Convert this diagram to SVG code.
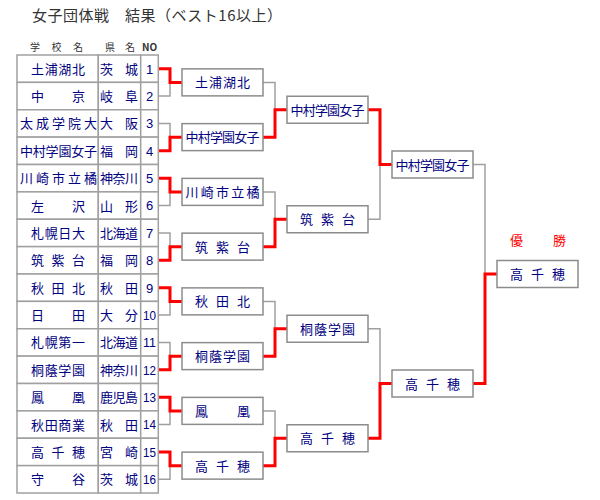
<svg xmlns="http://www.w3.org/2000/svg" width="600" height="500" viewBox="0 0 600 500">
<style>
text{font-family:"Noto Sans CJK JP","Liberation Sans",sans-serif}
.cell{fill:#fff;stroke:#a0a0a0;stroke-width:1.5}
.box{fill:#fff;stroke:#8c8c8c;stroke-width:1.5}
.t{font-size:13px;fill:#000080}
.no{font-family:"Liberation Sans",sans-serif;font-size:13px;fill:#000080;text-anchor:middle}
.hd{font-size:10px;fill:#333}
.g{fill:none;stroke:#a0a0a0;stroke-width:1.5}
.r{fill:none;stroke:#ff0000;stroke-width:3}
</style>
<rect width="600" height="500" fill="#fff"/>
<text x="32" y="21" font-size="15" fill="#333" textLength="250" lengthAdjust="spacing">女子団体戦　結果（ベスト16以上）</text>
<g id="header">
<text class="hd" x="30" y="50.5" textLength="53" lengthAdjust="spacing">学校名</text>
<text class="hd" x="105" y="50.5" textLength="30" lengthAdjust="spacing">県名</text>
<text class="hd" x="149.5" y="50.5" text-anchor="middle" font-family="Liberation Sans" font-weight="bold">NO</text>
</g>
<g id="connectors">
<path class="g" d="M158,96.06H170V82.375M158,123.44H170V137.125M158,205.56H170V191.875M158,232.94H170V246.625M158,315.06H170V301.375M158,342.44H170V356.125M158,424.56H170V410.875M158,479.31H170V465.625"/>
<path class="g" d="M263,82.375H275V109.75M263,191.875H275V219.25M263,301.375H275V328.75M263,410.875H275V438.25"/>
<path class="g" d="M368,219.25H380V164.5M368,328.75H380V383.5M473,164.5H485V274"/>
<path class="r" d="M158,68.69H170V82.375H182M158,150.81H170V137.125H182M158,178.19H170V191.875H182M158,260.31H170V246.625H182M158,287.69H170V301.375H182M158,369.81H170V356.125H182M158,397.19H170V410.875H182M158,451.94H170V465.625H182"/>
<path class="r" d="M263,137.125H275V109.75H287M263,246.625H275V219.25H287M263,356.125H275V328.75H287M263,465.625H275V438.25H287"/>
<path class="r" d="M368,109.75H380V164.5H392M368,438.25H380V383.5H392M473,383.5H485V274H497"/>
</g>
<g id="team1"><rect class="cell" x="17" y="55" width="81.3" height="27.375"/><rect class="cell" x="98.3" y="55" width="42.4" height="27.375"/><rect class="cell" x="140.7" y="55" width="17.6" height="27.375"/>
<text class="t" x="31" y="73.7" textLength="54" lengthAdjust="spacing">土浦湖北</text><text class="t" x="100" y="73.7" textLength="38" lengthAdjust="spacing">茨城</text><text class="no" x="149.5" y="73.5">1</text></g>
<g id="team2"><rect class="cell" x="17" y="82.375" width="81.3" height="27.375"/><rect class="cell" x="98.3" y="82.375" width="42.4" height="27.375"/><rect class="cell" x="140.7" y="82.375" width="17.6" height="27.375"/>
<text class="t" x="31" y="101.06" textLength="54" lengthAdjust="spacing">中京</text><text class="t" x="100" y="101.06" textLength="38" lengthAdjust="spacing">岐阜</text><text class="no" x="149.5" y="100.9">2</text></g>
<g id="team3"><rect class="cell" x="17" y="109.75" width="81.3" height="27.375"/><rect class="cell" x="98.3" y="109.75" width="42.4" height="27.375"/><rect class="cell" x="140.7" y="109.75" width="17.6" height="27.375"/>
<text class="t" x="20" y="128.44" textLength="77" lengthAdjust="spacing">太成学院大</text><text class="t" x="100" y="128.44" textLength="38" lengthAdjust="spacing">大阪</text><text class="no" x="149.5" y="128.3">3</text></g>
<g id="team4"><rect class="cell" x="17" y="137.125" width="81.3" height="27.375"/><rect class="cell" x="98.3" y="137.125" width="42.4" height="27.375"/><rect class="cell" x="140.7" y="137.125" width="17.6" height="27.375"/>
<text class="t" x="20" y="155.81" textLength="77" lengthAdjust="spacing">中村学園女子</text><text class="t" x="100" y="155.81" textLength="38" lengthAdjust="spacing">福岡</text><text class="no" x="149.5" y="155.6">4</text></g>
<g id="team5"><rect class="cell" x="17" y="164.5" width="81.3" height="27.375"/><rect class="cell" x="98.3" y="164.5" width="42.4" height="27.375"/><rect class="cell" x="140.7" y="164.5" width="17.6" height="27.375"/>
<text class="t" x="20" y="183.19" textLength="77" lengthAdjust="spacing">川崎市立橘</text><text class="t" x="100" y="183.19" textLength="38" lengthAdjust="spacing">神奈川</text><text class="no" x="149.5" y="183">5</text></g>
<g id="team6"><rect class="cell" x="17" y="191.875" width="81.3" height="27.375"/><rect class="cell" x="98.3" y="191.875" width="42.4" height="27.375"/><rect class="cell" x="140.7" y="191.875" width="17.6" height="27.375"/>
<text class="t" x="31" y="210.56" textLength="54" lengthAdjust="spacing">左沢</text><text class="t" x="100" y="210.56" textLength="38" lengthAdjust="spacing">山形</text><text class="no" x="149.5" y="210.4">6</text></g>
<g id="team7"><rect class="cell" x="17" y="219.25" width="81.3" height="27.375"/><rect class="cell" x="98.3" y="219.25" width="42.4" height="27.375"/><rect class="cell" x="140.7" y="219.25" width="17.6" height="27.375"/>
<text class="t" x="31" y="237.94" textLength="54" lengthAdjust="spacing">札幌日大</text><text class="t" x="100" y="237.94" textLength="38" lengthAdjust="spacing">北海道</text><text class="no" x="149.5" y="237.8">7</text></g>
<g id="team8"><rect class="cell" x="17" y="246.625" width="81.3" height="27.375"/><rect class="cell" x="98.3" y="246.625" width="42.4" height="27.375"/><rect class="cell" x="140.7" y="246.625" width="17.6" height="27.375"/>
<text class="t" x="31" y="265.31" textLength="54" lengthAdjust="spacing">筑紫台</text><text class="t" x="100" y="265.31" textLength="38" lengthAdjust="spacing">福岡</text><text class="no" x="149.5" y="265.1">8</text></g>
<g id="team9"><rect class="cell" x="17" y="274" width="81.3" height="27.375"/><rect class="cell" x="98.3" y="274" width="42.4" height="27.375"/><rect class="cell" x="140.7" y="274" width="17.6" height="27.375"/>
<text class="t" x="31" y="292.69" textLength="54" lengthAdjust="spacing">秋田北</text><text class="t" x="100" y="292.69" textLength="38" lengthAdjust="spacing">秋田</text><text class="no" x="149.5" y="292.5">9</text></g>
<g id="team10"><rect class="cell" x="17" y="301.375" width="81.3" height="27.375"/><rect class="cell" x="98.3" y="301.375" width="42.4" height="27.375"/><rect class="cell" x="140.7" y="301.375" width="17.6" height="27.375"/>
<text class="t" x="31" y="320.06" textLength="54" lengthAdjust="spacing">日田</text><text class="t" x="100" y="320.06" textLength="38" lengthAdjust="spacing">大分</text><text class="no" x="149.5" y="319.9" textLength="13" lengthAdjust="spacingAndGlyphs">10</text></g>
<g id="team11"><rect class="cell" x="17" y="328.75" width="81.3" height="27.375"/><rect class="cell" x="98.3" y="328.75" width="42.4" height="27.375"/><rect class="cell" x="140.7" y="328.75" width="17.6" height="27.375"/>
<text class="t" x="31" y="347.44" textLength="54" lengthAdjust="spacing">札幌第一</text><text class="t" x="100" y="347.44" textLength="38" lengthAdjust="spacing">北海道</text><text class="no" x="149.5" y="347.3" textLength="13" lengthAdjust="spacingAndGlyphs">11</text></g>
<g id="team12"><rect class="cell" x="17" y="356.125" width="81.3" height="27.375"/><rect class="cell" x="98.3" y="356.125" width="42.4" height="27.375"/><rect class="cell" x="140.7" y="356.125" width="17.6" height="27.375"/>
<text class="t" x="31" y="374.81" textLength="54" lengthAdjust="spacing">桐蔭学園</text><text class="t" x="100" y="374.81" textLength="38" lengthAdjust="spacing">神奈川</text><text class="no" x="149.5" y="374.6" textLength="13" lengthAdjust="spacingAndGlyphs">12</text></g>
<g id="team13"><rect class="cell" x="17" y="383.5" width="81.3" height="27.375"/><rect class="cell" x="98.3" y="383.5" width="42.4" height="27.375"/><rect class="cell" x="140.7" y="383.5" width="17.6" height="27.375"/>
<text class="t" x="31" y="402.19" textLength="54" lengthAdjust="spacing">鳳凰</text><text class="t" x="100" y="402.19" textLength="38" lengthAdjust="spacing">鹿児島</text><text class="no" x="149.5" y="402" textLength="13" lengthAdjust="spacingAndGlyphs">13</text></g>
<g id="team14"><rect class="cell" x="17" y="410.875" width="81.3" height="27.375"/><rect class="cell" x="98.3" y="410.875" width="42.4" height="27.375"/><rect class="cell" x="140.7" y="410.875" width="17.6" height="27.375"/>
<text class="t" x="31" y="429.56" textLength="54" lengthAdjust="spacing">秋田商業</text><text class="t" x="100" y="429.56" textLength="38" lengthAdjust="spacing">秋田</text><text class="no" x="149.5" y="429.4" textLength="13" lengthAdjust="spacingAndGlyphs">14</text></g>
<g id="team15"><rect class="cell" x="17" y="438.25" width="81.3" height="27.375"/><rect class="cell" x="98.3" y="438.25" width="42.4" height="27.375"/><rect class="cell" x="140.7" y="438.25" width="17.6" height="27.375"/>
<text class="t" x="31" y="456.94" textLength="54" lengthAdjust="spacing">高千穂</text><text class="t" x="100" y="456.94" textLength="38" lengthAdjust="spacing">宮崎</text><text class="no" x="149.5" y="456.8" textLength="13" lengthAdjust="spacingAndGlyphs">15</text></g>
<g id="team16"><rect class="cell" x="17" y="465.625" width="81.3" height="27.375"/><rect class="cell" x="98.3" y="465.625" width="42.4" height="27.375"/><rect class="cell" x="140.7" y="465.625" width="17.6" height="27.375"/>
<text class="t" x="31" y="484.31" textLength="54" lengthAdjust="spacing">守谷</text><text class="t" x="100" y="484.31" textLength="38" lengthAdjust="spacing">茨城</text><text class="no" x="149.5" y="484.1" textLength="13" lengthAdjust="spacingAndGlyphs">16</text></g>
<g id="r1-1"><rect class="box" x="182" y="68.875" width="81" height="27"/><text class="t" x="195" y="87.4" textLength="55" lengthAdjust="spacing">土浦湖北</text></g>
<g id="r1-2"><rect class="box" x="182" y="123.625" width="81" height="27"/><text class="t" x="185.5" y="142.1" textLength="74" lengthAdjust="spacing">中村学園女子</text></g>
<g id="r1-3"><rect class="box" x="182" y="178.375" width="81" height="27"/><text class="t" x="185.5" y="196.9" textLength="74" lengthAdjust="spacing">川崎市立橘</text></g>
<g id="r1-4"><rect class="box" x="182" y="233.125" width="81" height="27"/><text class="t" x="195" y="251.6" textLength="55" lengthAdjust="spacing">筑紫台</text></g>
<g id="r1-5"><rect class="box" x="182" y="287.875" width="81" height="27"/><text class="t" x="195" y="306.4" textLength="55" lengthAdjust="spacing">秋田北</text></g>
<g id="r1-6"><rect class="box" x="182" y="342.625" width="81" height="27"/><text class="t" x="195" y="361.1" textLength="55" lengthAdjust="spacing">桐蔭学園</text></g>
<g id="r1-7"><rect class="box" x="182" y="397.375" width="81" height="27"/><text class="t" x="195" y="415.9" textLength="55" lengthAdjust="spacing">鳳凰</text></g>
<g id="r1-8"><rect class="box" x="182" y="452.125" width="81" height="27"/><text class="t" x="195" y="470.6" textLength="55" lengthAdjust="spacing">高千穂</text></g>
<g id="r2-1"><rect class="box" x="287" y="96.25" width="81" height="27"/><text class="t" x="290.5" y="114.75" textLength="74" lengthAdjust="spacing">中村学園女子</text></g>
<g id="r2-2"><rect class="box" x="287" y="205.75" width="81" height="27"/><text class="t" x="300" y="224.25" textLength="55" lengthAdjust="spacing">筑紫台</text></g>
<g id="r2-3"><rect class="box" x="287" y="315.25" width="81" height="27"/><text class="t" x="300" y="333.75" textLength="55" lengthAdjust="spacing">桐蔭学園</text></g>
<g id="r2-4"><rect class="box" x="287" y="424.75" width="81" height="27"/><text class="t" x="300" y="443.25" textLength="55" lengthAdjust="spacing">高千穂</text></g>
<g id="r3-1"><rect class="box" x="392" y="151" width="81" height="27"/><text class="t" x="395.5" y="169.5" textLength="74" lengthAdjust="spacing">中村学園女子</text></g>
<g id="r3-2"><rect class="box" x="392" y="370" width="81" height="27"/><text class="t" x="405" y="388.5" textLength="55" lengthAdjust="spacing">高千穂</text></g>
<g id="champion"><text x="510" y="245" font-size="13" fill="#ff0000" textLength="56" lengthAdjust="spacing">優勝</text><rect class="box" x="497" y="260.5" width="81" height="27"/><text class="t" x="510" y="279" textLength="55" lengthAdjust="spacing">高千穂</text></g>
</svg>
